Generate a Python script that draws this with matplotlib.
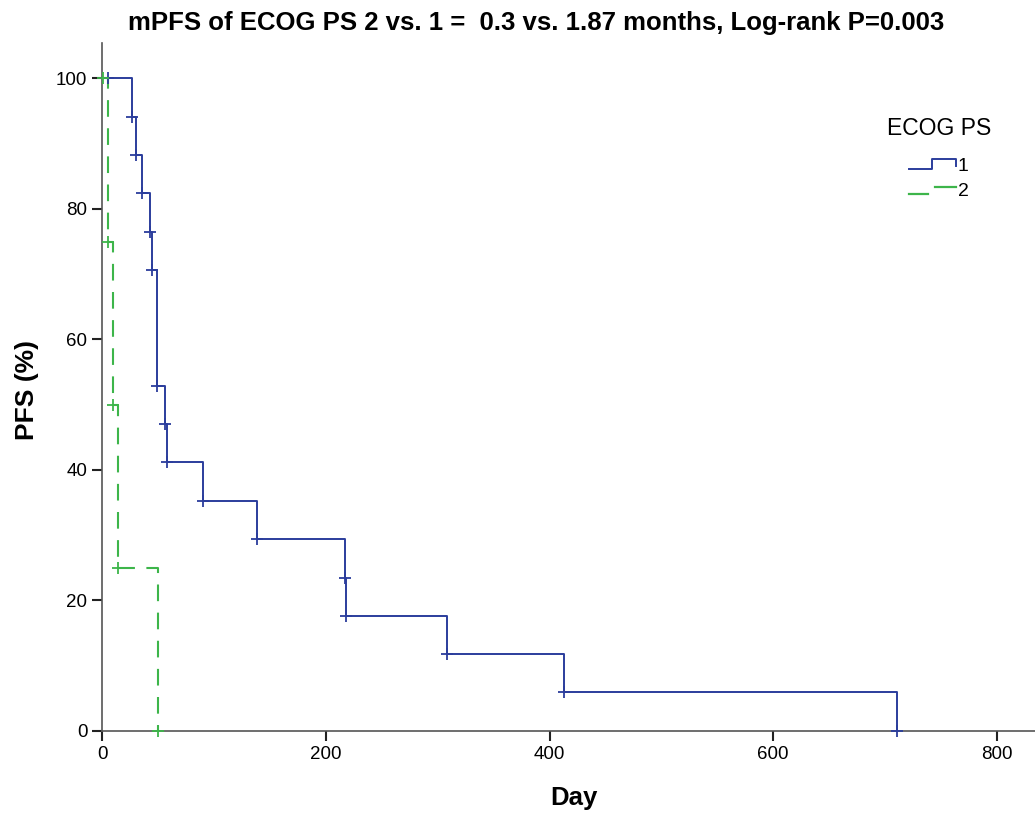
import matplotlib
matplotlib.use("Agg")
from matplotlib import pyplot as plt
from matplotlib.lines import Line2D
from matplotlib.legend_handler import HandlerBase

# ECOG PS 1 (blue) - step times in days and PFS (%) after each step
days_ps1 = [26.6, 30.4, 35.5, 42.9, 44.4, 49.4, 56.6, 57.9, 90.6, 138.3,
            217.3, 217.9, 308.2, 413.0, 710.6]
pfs_ps1 = [94.1, 88.2, 82.4, 76.5, 70.6, 52.9, 47.1, 41.2, 35.3, 29.4,
           23.5, 17.6, 11.8, 5.9, 0.0]

# ECOG PS 2 (green)
days_ps2 = [5.1, 10.1, 14.0, 50.3]
pfs_ps2 = [75.0, 50.0, 25.0, 0.0]

group_labels = ['1', '2']

blue = '#2b3d9c'
green = '#3db54a'


# SPSS style legend keys: a little step for the solid line, two offset dashes for the dashed one
class StepKey(HandlerBase):
    def create_artists(self, legend, orig_handle, xdescent, ydescent, width, height, fontsize, trans):
        x0, x1 = -xdescent, -xdescent + width
        xm = x0 + width * 0.48
        lo, hi = -ydescent + height * 0.15, -ydescent + height * 0.85
        if orig_handle.get_linestyle() == '-':
            xs = [x0, xm, xm, x1, x1]
            ys = [lo, lo, hi, hi, hi - height * 0.5]
            ln = Line2D(xs, ys, color=orig_handle.get_color(), lw=1.4, transform=trans)
            return [ln]
        a = Line2D([x0, x0 + width * 0.4], [lo, lo], color=orig_handle.get_color(), lw=1.6, transform=trans)
        b = Line2D([x0 + width * 0.55, x1], [hi - height * 0.2, hi - height * 0.2],
                   color=orig_handle.get_color(), lw=1.6, transform=trans)
        return [a, b]


plt.rcParams['font.family'] = ['Liberation Sans', 'DejaVu Sans']

fig = plt.figure(figsize=(10.35, 8.14), dpi=100)
ax = fig.add_axes([0.0986, 0.102, 0.9014, 0.845])

# step curves start at 100% on day 0
x1 = [0] + days_ps1
y1 = [100] + pfs_ps1
x2 = [0] + days_ps2
y2 = [100] + pfs_ps2

ax.step(x1, y1, where='post', color=blue, lw=1.4, clip_on=False, zorder=3)
ax.step(x2, y2, where='post', color=green, lw=1.5, ls=(0, (8, 5.5)), clip_on=False, zorder=2)

# censor / event marks
ax.plot([5] + days_ps1, [100] + pfs_ps1, ls='none', marker='+', ms=8.5, mew=1.3,
        color=blue, clip_on=False, zorder=4)
ax.plot([1.2] + days_ps2, [100] + pfs_ps2, ls='none', marker='+', ms=8.5, mew=1.3,
        color=green, clip_on=False, zorder=4)

ax.set_xlim(0, 834)
ax.set_ylim(0, 105.4)
ax.set_xticks([0, 200, 400, 600, 800])
ax.set_yticks([0, 20, 40, 60, 80, 100])

for side in ['top', 'right']:
    ax.spines[side].set_visible(False)
for side in ['left', 'bottom']:
    ax.spines[side].set_color('#555555')
    ax.spines[side].set_linewidth(1.2)
ax.tick_params(axis='both', direction='out', length=7.5, width=1.5, color='#222222',
               labelsize=13.5, pad=3)

fig.text(0.518, 0.972, 'mPFS of ECOG PS 2 vs. 1 =  0.3 vs. 1.87 months, Log-rank P=0.003',
         ha='center', va='center', fontsize=18.5, fontweight='bold')
fig.text(0.555, 0.020, 'Day', ha='center', va='center', fontsize=18.5, fontweight='bold')
fig.text(0.026, 0.521, 'PFS (%)', ha='center', va='center', rotation=90,
         fontsize=19, fontweight='bold')

handles = [Line2D([], [], color=blue, ls='-'),
           Line2D([], [], color=green, ls='--')]
leg = ax.legend(handles, group_labels, title='ECOG PS', loc='upper center',
                bbox_to_anchor=(0.897, 0.918), frameon=False, fontsize=14,
                title_fontsize=16.5, handlelength=2.4, handleheight=0.8,
                handletextpad=0.1, labelspacing=0.35,
                handler_map={Line2D: StepKey()})
leg._legend_box.sep = 12

fig.savefig('out.png', dpi=100)
